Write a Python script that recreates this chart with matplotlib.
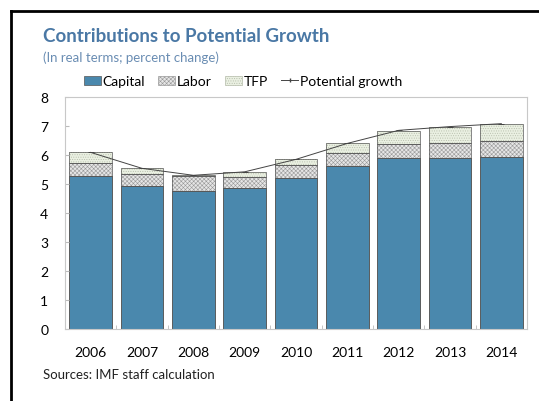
import numpy as np
import matplotlib.pyplot as plt
from matplotlib.lines import Line2D
from matplotlib.patches import Patch

plt.rcParams['font.family'] = ['Lato', 'DejaVu Sans']
plt.rcParams['hatch.linewidth'] = 0.4

years = ['2006', '2007', '2008', '2009', '2010', '2011', '2012', '2013', '2014']
capital = [5.27, 4.92, 4.75, 4.86, 5.20, 5.61, 5.89, 5.89, 5.94]
labor = [0.45, 0.41, 0.54, 0.39, 0.45, 0.47, 0.49, 0.52, 0.53]
tfp = [0.37, 0.23, 0.02, 0.18, 0.21, 0.32, 0.45, 0.57, 0.60]
potential = [6.09, 5.54, 5.30, 5.42, 5.85, 6.40, 6.85, 6.98, 7.08]

capital_col = '#4a88ad'
edge_col = '#555555'
hatch_col = '#999999'

fig = plt.figure(figsize=(5.39, 4.02), dpi=100)
ax = fig.add_axes([65 / 539, 1 - 330 / 402, 462 / 539, 232 / 402])

x = np.arange(len(years))
w = 0.83
ax.bar(x, capital, w, color=capital_col, edgecolor=edge_col, linewidth=0.5)
lab_top = np.array(capital) + np.array(labor)
# hatch colour follows edgecolor, so the stacked parts get a lighter edge
ax.bar(x, labor, w, bottom=capital, color='#e6e6e6', edgecolor=hatch_col,
       hatch='xxxxxxxx', linewidth=0)
ax.bar(x, tfp, w, bottom=lab_top, color='#eaf0e2', edgecolor='#b5bcaa',
       hatch='.......', linewidth=0)
# outlines of each segment
for bottom, height in [(0, capital), (capital, labor), (lab_top, tfp)]:
    ax.bar(x, height, w, bottom=bottom, fill=False, edgecolor=edge_col,
           linewidth=0.5)
ax.plot(x, potential, color='#444444', linewidth=0.7, marker='_',
        markersize=4, markeredgewidth=0.7)

ax.set_xlim(-0.5, len(years) - 0.5)
ax.set_ylim(0, 8)
ax.set_yticks(range(0, 9))
ax.set_xticks(x)
ax.set_xticklabels(years)
ax.set_xticks(np.arange(0.5, len(years) - 1, 1), minor=True)
ax.tick_params(axis='x', which='major', length=0, pad=12, labelsize=10)
ax.tick_params(axis='x', which='minor', length=3, direction='in', color='#bbbbbb')
ax.tick_params(axis='y', length=3, direction='in', color='#bbbbbb',
               pad=12, labelsize=10)
for s in ax.spines.values():
    s.set_color('#c8c8c8')
    s.set_linewidth(0.8)

fig.text(43 / 539, 1 - 36 / 402, 'Contributions to Potential Growth',
         fontsize=13.5, fontweight='bold', color='#4a78a5', va='center')
fig.text(43 / 539, 1 - 58 / 402, '(In real terms; percent change)',
         fontsize=9.5, color='#6a8db3', va='center')
fig.text(43 / 539, 1 - 375 / 402, 'Sources: IMF staff calculation',
         fontsize=9.5, color='#222222', va='center')

handles = [
    Patch(facecolor=capital_col, edgecolor=edge_col, linewidth=0.5),
    Patch(facecolor='#e6e6e6', edgecolor=hatch_col, hatch='xxxxxxxx', linewidth=0.5),
    Patch(facecolor='#eaf0e2', edgecolor='#b5bcaa', hatch='.......', linewidth=0.5),
    Line2D([], [], color='#444444', linewidth=0.7, marker='|', markersize=3),
]
fig.legend(handles, ['Capital', 'Labor', 'TFP', 'Potential growth'],
           loc='center left', bbox_to_anchor=(84 / 539, 1 - 82 / 402),
           ncol=4, frameon=False, fontsize=10, handlelength=1.2,
           handleheight=0.6, handletextpad=0.1, columnspacing=1.0,
           borderaxespad=0, borderpad=0)

# frame lines along the top and left of the figure
fig.add_artist(Line2D([11 / 539, 11 / 539], [0, 1 - 12 / 402],
                      color='black', linewidth=2, transform=fig.transFigure))
fig.add_artist(Line2D([11 / 539, 1], [1 - 12 / 402, 1 - 12 / 402],
                      color='black', linewidth=2, transform=fig.transFigure))

fig.savefig('out.png', dpi=100)
